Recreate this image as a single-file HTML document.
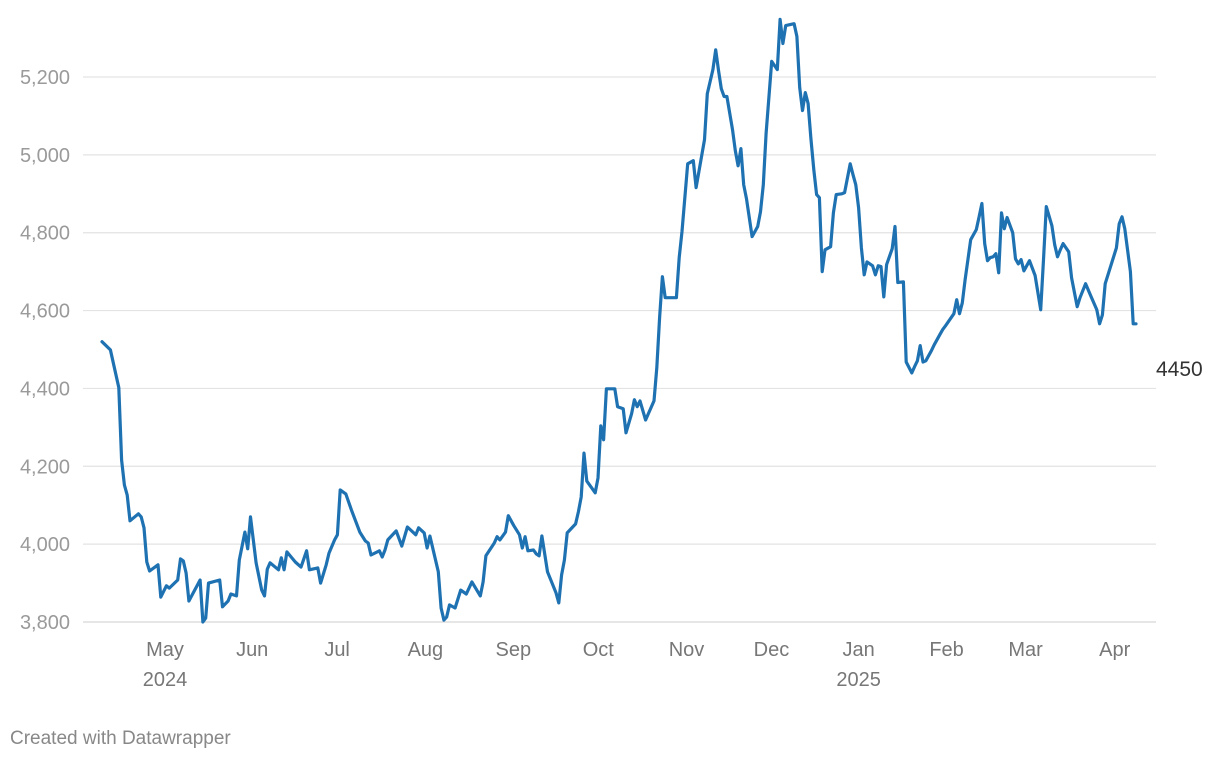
<!DOCTYPE html>
<html><head><meta charset="utf-8"><style>
body{margin:0;background:#fff;width:1220px;height:760px;overflow:hidden;font-family:"Liberation Sans",Arial,sans-serif;}
svg text{font-family:"Liberation Sans",Arial,sans-serif;}
</style></head><body>
<svg id="chart" width="1220" height="760" xmlns="http://www.w3.org/2000/svg">
<g id="grid"></g>
<g id="yticks"></g>
<g id="xticks"></g>
<path id="line" fill="none" stroke="#1f72b2" stroke-width="3.2" stroke-linejoin="round" stroke-linecap="round"></path>
<text id="endlabel" x="1156" y="376" font-size="21" fill="#333"></text>
<text x="10" y="744" font-size="19" fill="#888">Created with Datawrapper</text>
</svg>
<script>
const startDate = "2024-04-08";
const dayOffsets = [0,3,6,7,8,9,10,13,14,15,16,17,20,21,23,24,27,28,29,30,31,35,36,37,38,42,43,45,46,48,49,51,52,53,55,57,58,59,60,63,64,65,66,69,71,73,74,77,78,80,81,83,84,85,87,89,92,94,95,96,99,100,101,102,105,107,109,112,113,115,116,117,120,121,122,123,124,126,128,130,132,135,136,137,140,141,142,144,145,147,149,150,151,152,154,155,156,157,159,162,163,164,165,166,169,170,171,172,173,176,177,178,179,180,183,184,186,187,189,190,191,192,194,197,198,199,200,201,205,206,207,209,211,212,214,215,216,218,219,220,221,222,223,225,226,227,228,229,230,232,234,235,236,237,239,241,242,243,244,247,248,249,250,251,252,253,254,255,256,257,258,260,261,262,264,265,267,268,269,270,271,272,273,275,276,277,278,279,280,282,283,284,286,287,289,290,291,292,293,294,296,297,299,300,301,304,305,306,307,308,310,312,313,314,315,316,317,318,319,320,321,322,323,325,326,327,328,329,331,333,335,336,337,339,340,341,342,343,345,346,348,349,351,353,355,356,357,358,362,363,364,365,367,368,369];
const values = [4520,4499,4402,4216,4152,4126,4060,4078,4070,4042,3954,3931,3947,3864,3893,3887,3908,3962,3957,3926,3854,3908,3800,3810,3900,3908,3839,3854,3872,3867,3959,4031,3988,4070,3952,3882,3867,3936,3952,3934,3965,3934,3980,3954,3941,3983,3934,3939,3900,3947,3977,4011,4024,4139,4129,4088,4031,4008,4003,3972,3983,3967,3985,4011,4034,3995,4044,4024,4042,4029,3990,4021,3929,3836,3805,3813,3844,3836,3882,3872,3903,3867,3903,3970,4003,4019,4011,4031,4073,4047,4024,3990,4019,3983,3985,3975,3970,4021,3929,3875,3849,3921,3959,4029,4052,4083,4121,4234,4162,4132,4170,4304,4268,4399,4399,4353,4348,4286,4335,4371,4353,4368,4319,4368,4453,4582,4687,4633,4633,4736,4803,4977,4985,4916,4998,5039,5157,5219,5270,5217,5170,5150,5150,5065,5011,4972,5016,4923,4887,4790,4816,4854,4923,5055,5240,5219,5348,5286,5332,5337,5304,5173,5114,5160,5132,5042,4962,4898,4890,4700,4756,4764,4851,4898,4900,4903,4977,4949,4923,4864,4761,4692,4725,4715,4692,4715,4713,4635,4718,4759,4816,4672,4674,4468,4440,4456,4471,4510,4468,4471,4497,4512,4538,4551,4561,4592,4628,4592,4620,4679,4782,4808,4841,4875,4772,4728,4736,4738,4746,4697,4851,4810,4839,4800,4733,4720,4731,4702,4728,4690,4602,4731,4867,4818,4769,4738,4756,4772,4751,4684,4610,4633,4669,4635,4602,4566,4589,4669,4761,4823,4841,4810,4700,4566,4566,4450];
const yTicks = [3800,4000,4200,4400,4600,4800,5000,5200];
const monthLabels = ["May","Jun","Jul","Aug","Sep","Oct","Nov","Dec","Jan","Feb","Mar","Apr"];
const monthYears = ["2024","","","","","","","","2025","","",""];
const monthOffsets = [22.5,53.6,83.9,115.4,146.8,177.1,208.6,238.9,270,301.4,329.6,361.4];

const NS="http://www.w3.org/2000/svg";
const xS = d => 102 + (d-0)/(369-0)*(1136-102);
const yS = v => 622 - (v-3800)/(5200-3800)*(622-77);

const grid=document.getElementById('grid'), yt=document.getElementById('yticks'), xt=document.getElementById('xticks');
yTicks.forEach(t=>{
  const l=document.createElementNS(NS,'line');
  
  
  l.setAttribute('x1',83);l.setAttribute('x2',1156);
  l.setAttribute('y1',yS(t));l.setAttribute('y2',yS(t));
  l.setAttribute('stroke', t===3800?'#d6d6d6':'#e3e3e3');l.setAttribute('stroke-width',1.2);
  grid.appendChild(l);
  const tx=document.createElementNS(NS,'text');
  
  
  tx.setAttribute('x',70);tx.setAttribute('y',yS(t)+7);
  tx.setAttribute('text-anchor','end');tx.setAttribute('font-size','20');tx.setAttribute('fill','#9a9a9a');
  tx.textContent=t.toLocaleString('en-US');
  yt.appendChild(tx);
});
monthLabels.forEach((m,i)=>{
  const tx=document.createElementNS(NS,'text');
  
  
  tx.setAttribute('x',xS(monthOffsets[i]));tx.setAttribute('y',656);
  tx.setAttribute('text-anchor','middle');tx.setAttribute('font-size','20');tx.setAttribute('fill','#777');
  tx.textContent=m;
  xt.appendChild(tx);
  if(monthYears[i]){
    const ty=document.createElementNS(NS,'text');
    
    
    ty.setAttribute('x',xS(monthOffsets[i]));ty.setAttribute('y',686);
    ty.setAttribute('text-anchor','middle');ty.setAttribute('font-size','20');ty.setAttribute('fill','#777');
    ty.textContent=monthYears[i];
    xt.appendChild(ty);
  }
});
let d='';
values.forEach((v,i)=>{d+=(i?'L':'M')+xS(dayOffsets[i]).toFixed(1)+','+yS(v).toFixed(1);});
document.getElementById('line').setAttribute('d',d);
document.getElementById('endlabel').textContent=values[values.length-1];
</script>
</body></html>
